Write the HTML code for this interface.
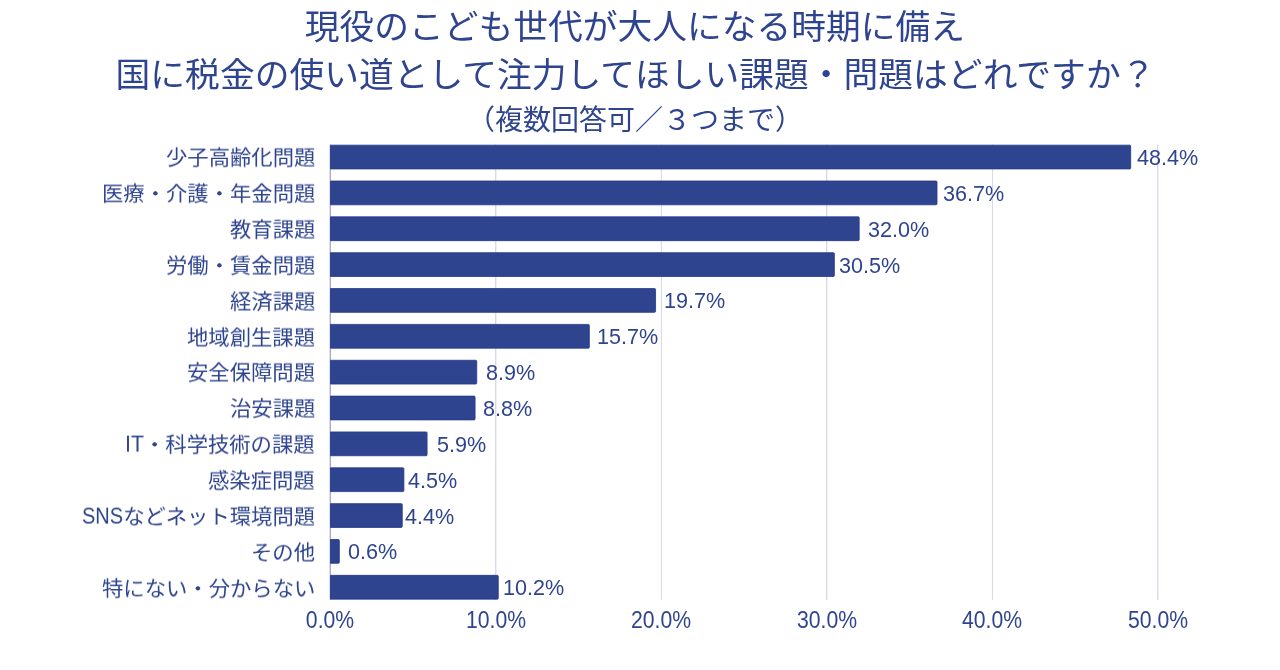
<!DOCTYPE html>
<html lang="ja">
<head>
<meta charset="utf-8">
<title>国に税金の使い道として注力してほしい課題・問題</title>
<style>
html,body{margin:0;padding:0;background:#fff;}
body{width:1280px;height:670px;position:relative;overflow:hidden;color:#2E448F;
 font-family:"Liberation Sans","Noto Sans CJK JP",sans-serif;}
.t{position:absolute;left:-4.5px;width:1280px;text-align:center;white-space:nowrap;margin:0;font-weight:400;}
.t1{top:2px;left:-5.2px;font-size:34.75px;line-height:50px;transform:scaleY(0.988);transform-origin:50% 8px;}
.t2{top:50.6px;font-size:34.77px;line-height:50px;transform:scaleY(0.97);transform-origin:50% 9px;}
.t3{top:100.8px;left:-5px;font-size:28px;line-height:40px;}
svg{position:absolute;left:0;top:0;}
.cat{position:absolute;right:965px;transform:scaleY(0.94);will-change:transform;white-space:nowrap;font-size:21.33px;line-height:30px;height:30px;text-align:right;}
.cat .l{display:inline-block;font-size:20px;transform:scaleY(1.2);transform-origin:50% 72%;}
.cat .l2{display:inline-block;transform:scaleY(1.1);transform-origin:50% 72%;}
.val{position:absolute;white-space:nowrap;font-size:21.6px;line-height:30px;height:30px;transform:scaleY(1.04);will-change:transform;}
.tick{position:absolute;top:605.0px;width:120px;margin-left:-60px;text-align:center;font-size:21.2px;line-height:30px;white-space:nowrap;transform:scaleY(1.1);transform-origin:50% 8px;will-change:transform;}
</style>
</head>
<body>
<h1 class="t t1">現役のこども世代が大人になる時期に備え</h1>
<h1 class="t t2">国に税金の使い道として注力してほしい課題・問題はどれですか？</h1>
<p class="t t3">（複数回答可／３つまで）</p>
<svg width="1280" height="670" viewBox="0 0 1280 670">
<rect x="495.00" y="144.5" width="1.40" height="455.6" fill="#d6dae9"/>
<rect x="660.90" y="144.5" width="1.10" height="455.6" fill="#d6dae9"/>
<rect x="826.00" y="144.5" width="1.35" height="455.6" fill="#d6dae9"/>
<rect x="991.92" y="144.5" width="1.08" height="455.6" fill="#d6dae9"/>
<rect x="1157.00" y="144.5" width="1.35" height="455.6" fill="#d6dae9"/>
<rect x="329.62" y="144.5" width="1.38" height="455.6" fill="#a5adce"/>
<path d="M330.50 145.15H1129.71Q1130.71 145.15 1130.71 146.15V167.95Q1130.71 168.95 1129.71 168.95H330.50Z" fill="#2E448F" stroke="#25398a" stroke-width="0.8"/>
<path d="M330.50 181.00H936.01Q937.01 181.00 937.01 182.00V203.80Q937.01 204.80 936.01 204.80H330.50Z" fill="#2E448F" stroke="#25398a" stroke-width="0.8"/>
<path d="M330.50 216.85H858.19Q859.19 216.85 859.19 217.85V239.65Q859.19 240.65 858.19 240.65H330.50Z" fill="#2E448F" stroke="#25398a" stroke-width="0.8"/>
<path d="M330.50 252.70H833.36Q834.36 252.70 834.36 253.70V275.50Q834.36 276.50 833.36 276.50H330.50Z" fill="#2E448F" stroke="#25398a" stroke-width="0.8"/>
<path d="M330.50 288.55H654.55Q655.55 288.55 655.55 289.55V311.35Q655.55 312.35 654.55 312.35H330.50Z" fill="#2E448F" stroke="#25398a" stroke-width="0.8"/>
<path d="M330.50 324.40H588.33Q589.33 324.40 589.33 325.40V347.20Q589.33 348.20 588.33 348.20H330.50Z" fill="#2E448F" stroke="#25398a" stroke-width="0.8"/>
<path d="M330.50 360.25H475.75Q476.75 360.25 476.75 361.25V383.05Q476.75 384.05 475.75 384.05H330.50Z" fill="#2E448F" stroke="#25398a" stroke-width="0.8"/>
<path d="M330.50 396.10H474.09Q475.09 396.10 475.09 397.10V418.90Q475.09 419.90 474.09 419.90H330.50Z" fill="#2E448F" stroke="#25398a" stroke-width="0.8"/>
<path d="M330.50 431.95H426.08Q427.08 431.95 427.08 432.95V454.75Q427.08 455.75 426.08 455.75H330.50Z" fill="#2E448F" stroke="#25398a" stroke-width="0.8"/>
<path d="M330.50 467.80H402.90Q403.90 467.80 403.90 468.80V490.60Q403.90 491.60 402.90 491.60H330.50Z" fill="#2E448F" stroke="#25398a" stroke-width="0.8"/>
<path d="M330.50 503.65H401.25Q402.25 503.65 402.25 504.65V526.45Q402.25 527.45 401.25 527.45H330.50Z" fill="#2E448F" stroke="#25398a" stroke-width="0.8"/>
<path d="M330.50 539.50H338.33Q339.33 539.50 339.33 540.50V562.30Q339.33 563.30 338.33 563.30H330.50Z" fill="#2E448F" stroke="#25398a" stroke-width="0.8"/>
<path d="M330.50 575.35H497.27Q498.27 575.35 498.27 576.35V598.15Q498.27 599.15 497.27 599.15H330.50Z" fill="#2E448F" stroke="#25398a" stroke-width="0.8"/>
</svg>
<div class="cat" style="top:143.2px">少子高齢化問題</div>
<div class="val" id="v0" style="top:143.1px;left:1137.2px">48.4%</div>
<div class="cat" style="top:179.1px">医療・介護・年金問題</div>
<div class="val" id="v1" style="top:178.9px;left:943.0px">36.7%</div>
<div class="cat" style="top:214.9px">教育課題</div>
<div class="val" id="v2" style="top:214.8px;left:868.2px">32.0%</div>
<div class="cat" style="top:250.8px">労働・賃金問題</div>
<div class="val" id="v3" style="top:250.6px;left:839.4px">30.5%</div>
<div class="cat" style="top:286.6px">経済課題</div>
<div class="val" id="v4" style="top:286.4px;left:664.1px">19.7%</div>
<div class="cat" style="top:322.5px">地域創生課題</div>
<div class="val" id="v5" style="top:322.3px;left:596.5px">15.7%</div>
<div class="cat" style="top:358.4px">安全保障問題</div>
<div class="val" id="v6" style="top:358.2px;left:485.7px">8.9%</div>
<div class="cat" style="top:394.2px">治安課題</div>
<div class="val" id="v7" style="top:394.0px;left:482.6px">8.8%</div>
<div class="cat" style="top:430.1px"><span class="l2">IT</span>・科学技術の課題</div>
<div class="val" id="v8" style="top:429.9px;left:437.4px">5.9%</div>
<div class="cat" style="top:465.9px">感染症問題</div>
<div class="val" id="v9" style="top:465.7px;left:408.3px">4.5%</div>
<div class="cat" style="top:501.7px"><span class="l">SNS</span>などネット環境問題</div>
<div class="val" id="v10" style="top:501.5px;left:404.9px">4.4%</div>
<div class="cat" style="top:537.6px">その他</div>
<div class="val" id="v11" style="top:537.4px;left:347.9px">0.6%</div>
<div class="cat" style="top:573.5px">特にない・分からない</div>
<div class="val" id="v12" style="top:573.2px;left:503.3px">10.2%</div>
<div class="tick" style="left:330.1px">0.0%</div>
<div class="tick" style="left:495.7px">10.0%</div>
<div class="tick" style="left:661.2px">20.0%</div>
<div class="tick" style="left:826.8px">30.0%</div>
<div class="tick" style="left:992.3px">40.0%</div>
<div class="tick" style="left:1157.9px">50.0%</div>
</body>
</html>
